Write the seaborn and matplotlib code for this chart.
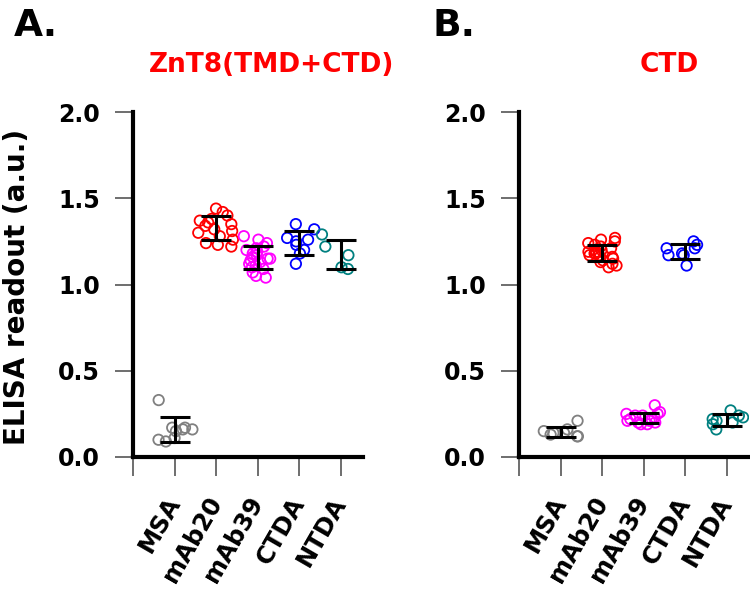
import matplotlib
matplotlib.use("Agg")
import matplotlib.pyplot as plt
import numpy as np
import pandas as pd
import seaborn as sns

CATEGORIES = ["MSA", "mAb20", "mAb39", "CTDA", "NTDA"]
COLORS = ["#808080", "#ff0000", "#ff00ff", "#0000ff", "#008080"]
Y_TICKS = [0.0, 0.5, 1.0, 1.5, 2.0]
Y_TICK_LABELS = ["0.0", "0.5", "1.0", "1.5", "2.0"]

# Panel A - ZnT8(TMD+CTD)
A_MSA = [0.33, 0.17, 0.17, 0.16, 0.16, 0.15, 0.11, 0.10, 0.09]
A_MAB20 = [1.44, 1.42, 1.40, 1.38, 1.37, 1.36, 1.35, 1.34, 1.32, 1.31,
           1.30, 1.28, 1.26, 1.24, 1.23, 1.22]
A_MAB39 = [1.28, 1.26, 1.24, 1.22, 1.21, 1.20, 1.19, 1.18, 1.17, 1.16, 1.15,
           1.15, 1.14, 1.13, 1.12, 1.11, 1.10, 1.09, 1.07, 1.05, 1.04]
A_CTDA = [1.35, 1.32, 1.27, 1.26, 1.25, 1.23, 1.20, 1.18, 1.12]
A_NTDA = [1.29, 1.22, 1.17, 1.10, 1.09]

# Panel B - CTD
B_MSA = [0.21, 0.16, 0.15, 0.14, 0.14, 0.13, 0.12, 0.12]
B_MAB20 = [1.27, 1.26, 1.25, 1.24, 1.23, 1.22, 1.21, 1.20, 1.19, 1.19, 1.18,
           1.18, 1.17, 1.17, 1.16, 1.16, 1.15, 1.14, 1.13, 1.12, 1.11, 1.10]
B_MAB39 = [0.30, 0.26, 0.25, 0.25, 0.24, 0.24, 0.23, 0.22, 0.22, 0.21, 0.21,
           0.20, 0.20, 0.19, 0.19]
B_CTDA = [1.25, 1.23, 1.21, 1.21, 1.18, 1.17, 1.17, 1.11]
B_NTDA = [0.27, 0.24, 0.23, 0.22, 0.21, 0.20, 0.19, 0.16]


def to_frame(groups):
    rows = []
    for name, values in zip(CATEGORIES, groups):
        for v in values:
            rows.append({"group": name, "value": v})
    return pd.DataFrame(rows)


def draw_panel(ax, df):
    sns.stripplot(
        data=df, x="group", y="value", hue="group",
        order=CATEGORIES, hue_order=CATEGORIES, palette=COLORS,
        jitter=0.45, size=7.5, linewidth=1.3, legend=False, ax=ax, zorder=2,
    )
    # open circles
    for coll in ax.collections:
        fc = coll.get_facecolors()
        coll.set_edgecolors(fc)
        coll.set_facecolors("none")

    stats = df.groupby("group")["value"].agg(["mean", "std"]).reindex(CATEGORIES)
    ax.errorbar(
        range(len(CATEGORIES)), stats["mean"], yerr=stats["std"],
        fmt="none", ecolor="black", elinewidth=2.2, capsize=11, capthick=2.2,
        zorder=3,
    )

    ax.set_ylim(0, 2.0)
    ax.set_yticks(Y_TICKS)
    ax.set_yticklabels(Y_TICK_LABELS)
    ax.set_xlim(-1, 4.54)
    ax.set_xticks(range(-1, len(CATEGORIES)))
    ax.set_xticklabels([""] + CATEGORIES, rotation=60, ha="right",
                       va="center", rotation_mode="anchor")
    ax.set_xlabel("")
    ax.set_ylabel("")
    sns.despine(ax=ax)
    for side in ["left", "bottom"]:
        ax.spines[side].set_linewidth(3)
        ax.spines[side].set_color("black")
    ax.tick_params(axis="y", left=True, length=13, width=1.2, color="#555555",
                   labelcolor="black", labelsize=17, pad=11)
    ax.tick_params(axis="x", bottom=True, length=14, width=1.2, color="#555555",
                   labelcolor="black", labelsize=17.5, pad=16)
    for lab in ax.get_xticklabels() + ax.get_yticklabels():
        lab.set_fontweight("bold")


sns.set_style("ticks")
plt.rcParams["font.family"] = ["DejaVu Sans"]
plt.rcParams["font.weight"] = "bold"
plt.rcParams["text.color"] = "black"

np.random.seed(7)

fig = plt.figure(figsize=(7.5, 5.92), dpi=100)
ax_a = fig.add_axes([133 / 750, 135 / 592, 230 / 750, 345 / 592])
ax_b = fig.add_axes([519 / 750, 135 / 592, 230 / 750, 345 / 592])

draw_panel(ax_a, to_frame([A_MSA, A_MAB20, A_MAB39, A_CTDA, A_NTDA]))
draw_panel(ax_b, to_frame([B_MSA, B_MAB20, B_MAB39, B_CTDA, B_NTDA]))

fig.text(14 / 750, 1 - 36 / 592, "A.", fontsize=27, fontweight="bold",
         color="black", ha="left", va="baseline")
fig.text(433 / 750, 1 - 36 / 592, "B.", fontsize=27, fontweight="bold",
         color="black", ha="left", va="baseline")
fig.text(272 / 750, 1 - 72 / 592, "ZnT8(TMD+CTD)", color="#ff0000",
         fontsize=19, fontweight="bold", ha="center", va="baseline")
fig.text(669 / 750, 1 - 72 / 592, "CTD", color="#ff0000",
         fontsize=19, fontweight="bold", ha="center", va="baseline")
fig.text(17 / 750, 1 - 287 / 592, "ELISA readout (a.u.)", rotation=90,
         fontsize=20, fontweight="bold", color="black",
         ha="center", va="center")

fig.savefig("out.png", dpi=100)
